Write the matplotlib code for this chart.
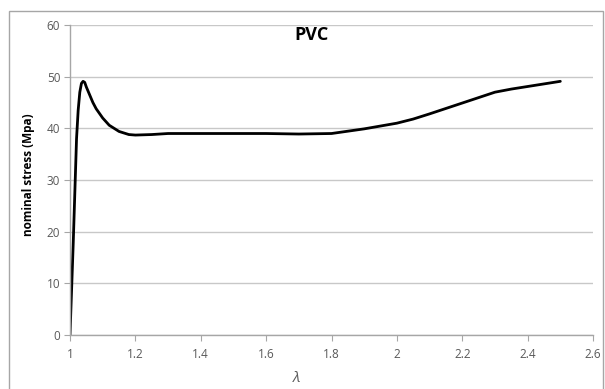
import matplotlib.pyplot as plt
from matplotlib.patches import Rectangle

# stretch ratio and nominal stress
stretch = [1.0, 1.005, 1.01, 1.015, 1.02, 1.025, 1.03, 1.035, 1.04, 1.045, 1.05,
           1.06, 1.07, 1.08, 1.1, 1.12, 1.15, 1.18, 1.2, 1.25, 1.3, 1.4, 1.5,
           1.6, 1.7, 1.8, 1.9, 2.0, 2.05, 2.1, 2.2, 2.3, 2.35, 2.4, 2.5]
stress = [0.0, 9.0, 18.0, 28.0, 38.0, 43.5, 47.0, 48.7, 49.1, 48.9, 48.0,
          46.5, 45.0, 43.8, 42.0, 40.6, 39.4, 38.8, 38.7, 38.8, 39.0, 39.0, 39.0,
          39.0, 38.9, 39.0, 39.9, 41.0, 41.8, 42.8, 44.9, 47.0, 47.6, 48.1, 49.1]

xticks = [1, 1.2, 1.4, 1.6, 1.8, 2, 2.2, 2.4, 2.6]
xtick_labels = ["1", "1.2", "1.4", "1.6", "1.8", "2", "2.2", "2.4", "2.6"]
yticks = [0, 10, 20, 30, 40, 50, 60]

plt.rcParams['font.family'] = ['Open Sans', 'DejaVu Sans']

fig = plt.figure(figsize=(6.05, 3.89), dpi=100)
ax = fig.add_axes([0.1157, 0.1388, 0.8645, 0.7969])

# chart area border
fig.patches.append(Rectangle((9 / 605, -0.02), 594 / 605, 378 / 389 + 0.02,
                             transform=fig.transFigure, fill=False,
                             edgecolor='#a6a6a6', linewidth=1.0))

ax.plot(stretch, stress, color='black', linewidth=2.0, solid_capstyle='round')

ax.set_xlim(1, 2.6)
ax.set_ylim(0, 60)
ax.set_xticks(xticks)
ax.set_xticklabels(xtick_labels)
ax.set_yticks(yticks)

ax.yaxis.grid(True, color='#c8c8c8', linewidth=1.0)
ax.set_axisbelow(True)
for side in ['top', 'right']:
    ax.spines[side].set_visible(False)
for side in ['left', 'bottom']:
    ax.spines[side].set_color('#a6a6a6')
    ax.spines[side].set_linewidth(1.0)

ax.tick_params(axis='both', colors='#a6a6a6', labelcolor='#595959', labelsize=8.5)
ax.tick_params(axis='y', length=4, pad=3)
ax.tick_params(axis='x', length=4, pad=5)

ax.set_ylabel('nominal stress (Mpa)', fontsize=8.5, fontweight='bold')
ax.yaxis.set_label_coords(-0.067, 0.516)
ax.set_xlabel('λ', fontsize=11, style='italic', color='#595959')
ax.xaxis.set_label_coords(0.433, -0.117)

fig.text(312 / 605, 1 - 35 / 389, 'PVC', fontsize=13, fontweight='bold',
         ha='center', va='center')

fig.savefig('out.png', dpi=100)
